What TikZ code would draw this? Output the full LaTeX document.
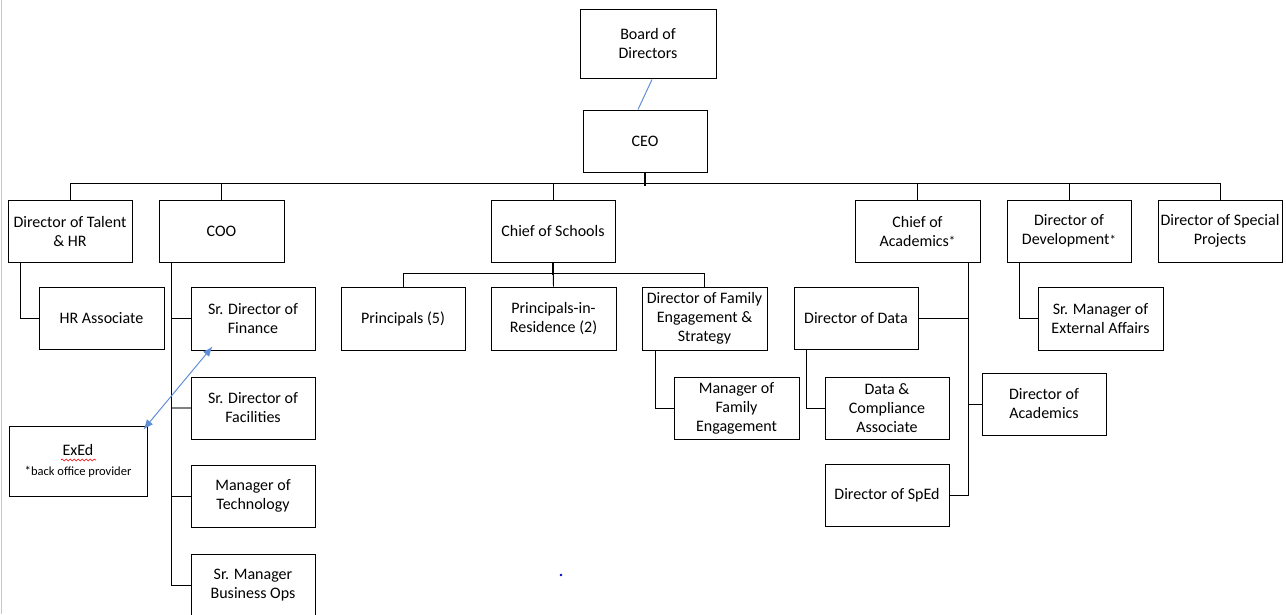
\documentclass[tikz,border=0pt]{standalone}
\usepackage{fontspec}
\setmainfont{Carlito}
\usetikzlibrary{calc,decorations.pathmorphing,arrows.meta}
\definecolor{linkblue}{RGB}{96,142,214}
\tikzset{
  bx/.style={draw=black, line width=1pt, align=center, inner sep=0pt,
    minimum width=124pt, minimum height=62pt, font=\fontsize{16}{19}\selectfont},
  conn/.style={draw=black, line width=0.95pt},
  bluelink/.style={draw=linkblue, line width=1pt}
}
\newcommand{\smallstar}{{\fontsize{13}{13}\selectfont\raisebox{0.5pt}{*}}}
\begin{document}
\begin{tikzpicture}[x=1pt,y=-1pt]
\useasboundingbox (0,0) rectangle (1286,614);
\draw[gray!45, line width=1pt] (1,0) -- (1,614);

% level 0/1
\node[bx, minimum width=136pt, minimum height=69pt] (bod) at (648,43.5) {Board of\\Directors};
\node[bx] (ceo) at (645,141) {CEO};

% level 2
\node[bx] (talent) at (70,231) {Director of Talent\\\& HR};
\node[bx, minimum width=125pt] (coo) at (221.5,231) {COO};
\node[bx] (chiefsch) at (553,231) {Chief of Schools};
\node[bx, minimum width=125pt] (chiefacad) at (917.5,231) {Chief of\\Academics\smallstar};
\node[bx] (dev) at (1069,231) {Director of\\Development\smallstar};
\node[bx] (special) at (1220,231) {Director of Special\\Projects};

% level 3
\node[bx, minimum width=125pt] (hr) at (101.5,318) {HR Associate};
\node[bx, minimum height=63pt] (fin) at (253,318.5) {Sr. Director of\\Finance};
\node[bx] (fac) at (253,408) {Sr. Director of\\Facilities};
\node[bx] (tech) at (253,496) {Manager of\\Technology};
\node[bx] (ops) at (253,585) {Sr. Manager\\Business Ops};
\node[bx, minimum width=138pt, minimum height=70pt] (exed) at (78,461)
  {ExEd\\[1pt]{\fontsize{12.5}{14}\selectfont\smallstar back office provider}};

\node[bx, minimum height=63pt] (princ) at (403,318.5) {Principals (5)};
\node[bx, minimum width=125pt, minimum height=63pt] (pir) at (553.5,318.5) {Principals-in-\\Residence (2)};
\node[bx, minimum width=125pt, minimum height=63pt] (dfam) at (704.5,318.5) {Director of Family\\Engagement \&\\Strategy};
\node[bx, minimum width=125pt] (mfam) at (736.5,408) {Manager of\\Family\\Engagement};

\node[bx] (ddata) at (856,318) {Director of Data};
\node[bx] (dca) at (887,408) {Data \&\\Compliance\\Associate};
\node[bx] (dacad) at (1044,404) {Director of\\Academics};
\node[bx] (dsped) at (887,495) {Director of SpEd};
\node[bx, minimum width=125pt, minimum height=63pt] (sext) at (1100.5,318.5) {Sr. Manager of\\External Affairs};

% connectors
\draw[bluelink] ($(bod.south)+(4,1)$) -- ($(ceo.north)+(-7,0)$);
\draw[conn, line width=1.3pt] (ceo.south) -- ++(0,13);
\draw[conn] (talent.north) -- ++(0,-16) -| (special.north);
\draw[conn] (coo.north) -- ++(0,-16);
\draw[conn] (chiefsch.north) -- ++(0,-16);
\draw[conn] (chiefacad.north) -- ++(0,-16);
\draw[conn] (dev.north) -- ++(0,-16);

\draw[conn] ($(talent.south)+(-50,0)$) |- (hr.west);

\coordinate (cooT) at ($(coo.south)+(-50,0)$);
\draw[conn] (cooT) |- (ops.west);
\draw[conn] (cooT |- fin.west) -- (fin.west);
\draw[draw=gray, line width=1.1pt] (cooT |- fac.west) -- (fac.west);
\draw[conn] (cooT |- tech.west) -- (tech.west);

\draw[bluelink, {Latex[length=10pt,width=8pt]}-{Latex[length=10pt,width=8pt]}]
  ($(exed.north east)+(-4,4)$) -- ($(fin.south west)+(22,-4)$);
\draw[red, line width=0.6pt, decorate, decoration={snake, segment length=4pt, amplitude=1pt}]
  (61,460) -- (96,460);

\draw[conn, line width=1.3pt] (chiefsch.south) -- ++(0,12);
\draw[conn] (chiefsch.south) -- (pir.north);
\draw[conn] (princ.north) -- ++(0,-13) -| (dfam.north);
\draw[conn] ($(dfam.south)+(-49.5,0)$) |- (mfam.west);

\coordinate (caT) at ($(chiefacad.south)+(50.5,0)$);
\draw[conn] (caT) |- (dsped.east);
\draw[conn] (ddata.east) -- (caT |- ddata.east);
\draw[conn] (dacad.west) -- (caT |- dacad.west);
\draw[conn] ($(ddata.south)+(-50,0)$) |- (dca.west);

\draw[conn] ($(dev.south)+(-50,0)$) |- (sext.west);

\fill[blue!80!black] (561,575) circle (1.3pt);
\end{tikzpicture}
\end{document}
